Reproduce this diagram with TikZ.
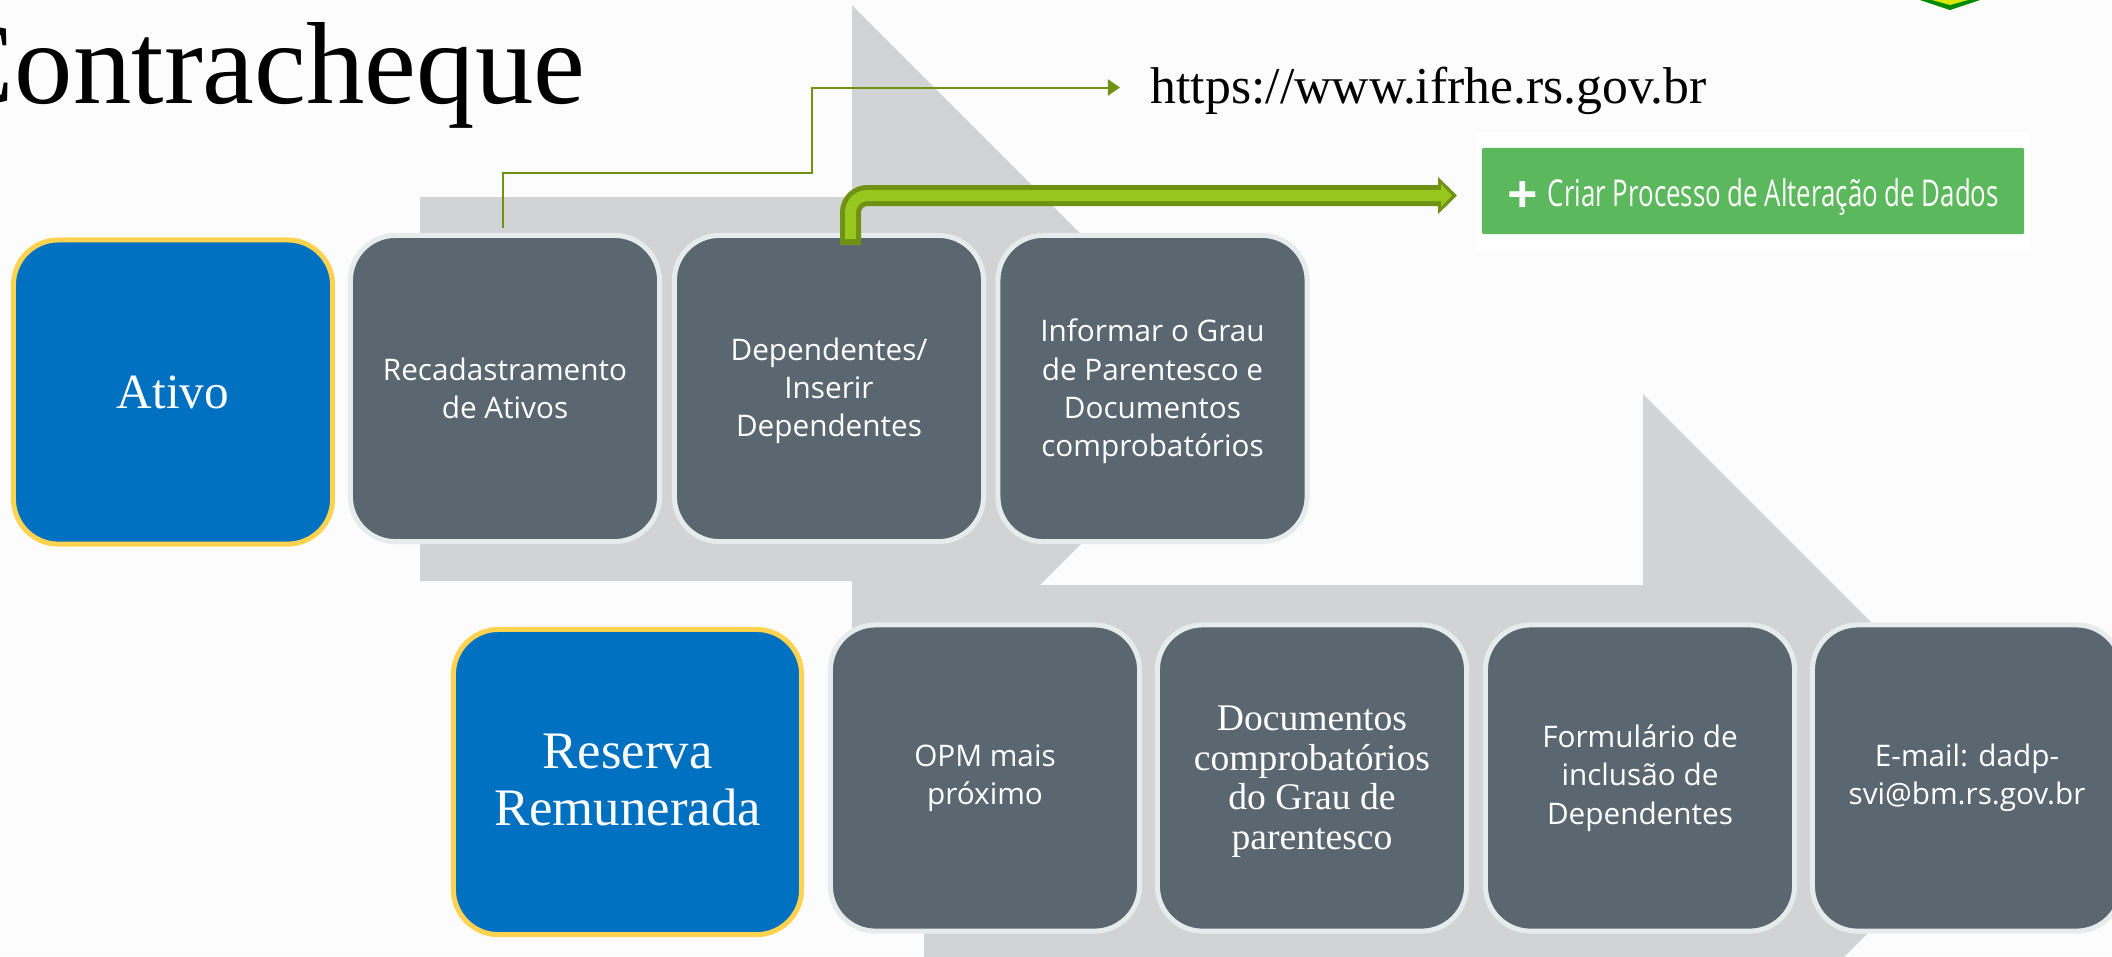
\documentclass[tikz,border=0pt]{standalone}
\usepackage{fontspec}
\usepackage{tikz}
\usetikzlibrary{arrows.meta}
\setmainfont{Liberation Serif}
\newfontfamily\bodyfont{Open Sans}
\definecolor{slatebox}{HTML}{5B6770}
\definecolor{slateline}{HTML}{E6ECEC}
\definecolor{bluebox}{HTML}{0070C0}
\definecolor{goldline}{HTML}{FFD34F}
\definecolor{greyarrow}{HTML}{D1D3D5}
\definecolor{darkleaf}{HTML}{6F9214}
\definecolor{lightleaf}{HTML}{97C71F}
\definecolor{btngreen}{HTML}{5CB85C}
\tikzstyle{stepbox}=[rectangle, rounded corners=.45cm, draw=slateline, fill=slatebox, line width=.05cm,
    minimum width=3.09cm, minimum height=3.06cm, inner sep=0pt, align=center, text=white,
    font=\bodyfont\fontsize{8.45}{10.9}\selectfont]
\tikzstyle{statusbox}=[stepbox, draw=goldline, fill=bluebox, font=\fontsize{15}{16.2}\selectfont]
\begin{document}
\begin{tikzpicture}[x=.01cm,y=-.01cm]
          \clip (0,0) rectangle (2112,956);
          \fill[white!99!black] (0,0) rectangle (2112,956);
          \fill[greyarrow] (420,197) -- (852,197) -- (852,5) -- (1236,389) -- (852,773) -- (852,581) -- (420,581) -- cycle;
          \fill[greyarrow] (924,585) -- (1643,585) -- (1643,394) -- (2025,776) -- (1643,1158) -- (1643,967) -- (924,967) -- cycle;
          \fill[green!55!black] (1920,0) -- (1980,0) -- (1950,10) -- cycle;
          \fill[yellow!85!green] (1932,0) -- (1968,0) -- (1950,5) -- cycle;
          \node[anchor=base east, inner sep=0pt, font=\fontsize{33.2}{36}\selectfont] (title) at (586,103.5) {Contracheque};
          \node[anchor=west, inner sep=0pt, text height=.40cm, text depth=.08cm, font=\fontsize{14.7}{16}\selectfont] (url) at (1150,87.5) {https://www.ifrhe.rs.gov.br};
          \node[statusbox, minimum width=3.19cm, minimum height=3.04cm, font=\fontsize{14}{16}\selectfont] (ativo) at (173,392) {Ativo};
          \node[stepbox] (recad) at (505,388.5) {Recadastramento\\de Ativos};
          \node[stepbox] (depend) at (829,388.5) {\rule{0pt}{.27cm}Dependentes/\\Inserir\\Dependentes};
          \node[stepbox] (grau) at (1152.5,388.5) {\rule{0pt}{.285cm}Informar o Grau\\de Parentesco e\\Documentos\\comprobatórios};
          \node[statusbox, minimum width=3.48cm, minimum height=3.05cm] (reserva) at (627.5,782) {Reserva\\Remunerada\rule[-.05cm]{0pt}{.1cm}};
          \node[stepbox] (opm) at (985,778) {OPM mais\\próximo};
          \node[stepbox, font=\fontsize{10.7}{11.2}\selectfont] (docs) at (1312,778) {\rule{0pt}{.32cm}Documentos\\comprobatórios\\do Grau de\\parentesco};
          \node[stepbox] (form) at (1640,778) {Formulário de\\inclusão de\\Dependentes};
          \node[stepbox] (email) at (1967,778) {E-mail: dadp-\\svi@bm.rs.gov.br};
          \fill[white] (1476,132) rectangle (2030,250);
          \node[rectangle, rounded corners=.02cm, fill=btngreen, text=white, minimum width=5.42cm, minimum height=.86cm, inner sep=0pt,
              font=\bodyfont\fontsize{10.5}{12}\selectfont] (btn) at (1753,191) {\raisebox{-.22cm}[0pt][0pt]{\scalebox{1.45}{\textbf{+}}}\hspace{.1cm}\raisebox{-.15cm}[0pt][0pt]{\scalebox{.70}[1]{Criar Processo de Alteração de Dados}}\hspace{.05cm}};
          % thin link
          \coordinate (linkbend) at (812,172.5);
          \draw[darkleaf, line width=.02cm, shorten <=.05cm, shorten >=.3cm, -{Triangle[length=.12cm,width=.16cm]}]
              ([xshift=-.025cm]recad.north) |- (linkbend) |- (url.west);
          % thick link
          \coordinate (thickstart) at (850.5,245);
          \coordinate (thickend) at (1457,195.5);
          \draw[darkleaf, line width=.21cm, rounded corners=.17cm, -{Triangle[length=.19cm,width=.36cm]}] (thickstart) |- (thickend);
          \draw[lightleaf, line width=.11cm, rounded corners=.17cm, shorten <=.06cm, shorten >=.05cm, -{Triangle[length=.11cm,width=.22cm]}] (thickstart) |- (thickend);
        \end{tikzpicture}
\end{document}
